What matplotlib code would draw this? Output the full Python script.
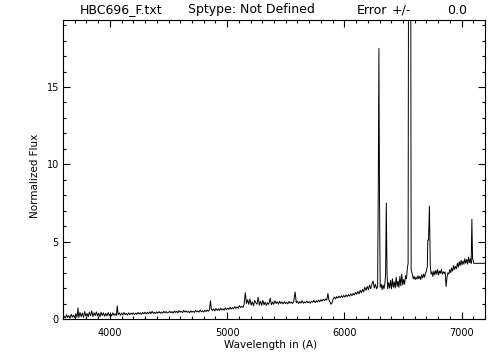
import matplotlib
matplotlib.use("Agg")
import matplotlib.pyplot as plt
from matplotlib.ticker import MultipleLocator

# spectrum (wavelength in A, normalized flux)
wave = [
    3600, 3610, 3620, 3630, 3640, 3650, 3660, 3670, 3680, 3690,
    3700, 3710, 3720, 3728, 3735, 3745, 3755, 3765, 3775, 3785,
    3795, 3805, 3815, 3825, 3835, 3845, 3855, 3865, 3875, 3885,
    3895, 3905, 3915, 3925, 3935, 3945, 3955, 3965, 3975, 3985,
    3995, 4005, 4015, 4025, 4035, 4045, 4055, 4063, 4070, 4080,
    4090, 4100, 4110, 4120, 4130, 4140, 4150, 4160, 4170, 4180,
    4190, 4200, 4210, 4220, 4230, 4240, 4250, 4260, 4270, 4280,
    4290, 4300, 4310, 4320, 4330, 4340, 4350, 4360, 4370, 4380,
    4390, 4400, 4410, 4420, 4430, 4440, 4450, 4460, 4470, 4480,
    4490, 4500, 4510, 4520, 4530, 4540, 4550, 4560, 4570, 4580,
    4590, 4600, 4610, 4620, 4630, 4640, 4650, 4660, 4670, 4680,
    4690, 4700, 4710, 4720, 4730, 4740, 4750, 4760, 4770, 4780,
    4790, 4800, 4810, 4820, 4830, 4840, 4850, 4858, 4866, 4875,
    4885, 4895, 4905, 4915, 4925, 4935, 4945, 4955, 4965, 4975,
    4985, 4995, 5005, 5015, 5025, 5035, 5045, 5055, 5065, 5075,
    5085, 5095, 5105, 5115, 5125, 5135, 5145, 5155, 5165, 5175,
    5185, 5195, 5205, 5215, 5225, 5235, 5245, 5255, 5265, 5275,
    5285, 5295, 5305, 5315, 5325, 5335, 5345, 5355, 5368, 5378,
    5388, 5398, 5408, 5418, 5428, 5438, 5448, 5458, 5468, 5478,
    5488, 5498, 5508, 5518, 5528, 5538, 5548, 5558, 5568, 5580,
    5590, 5600, 5610, 5620, 5630, 5640, 5650, 5660, 5670, 5680,
    5690, 5700, 5710, 5720, 5730, 5740, 5750, 5760, 5770, 5780,
    5790, 5800, 5810, 5820, 5830, 5840, 5850, 5860, 5868, 5878,
    5886, 5895, 5905, 5915, 5925, 5935, 5945, 5955, 5965, 5975,
    5985, 5995, 6005, 6015, 6025, 6035, 6045, 6055, 6065, 6075,
    6085, 6095, 6105, 6115, 6125, 6135, 6145, 6155, 6165, 6175,
    6185, 6195, 6205, 6215, 6225, 6235, 6245, 6255, 6265, 6275,
    6284, 6290, 6295, 6300, 6306, 6314, 6322, 6330, 6338, 6346,
    6352, 6358, 6364, 6370, 6378, 6386, 6394, 6402, 6410, 6418,
    6426, 6434, 6442, 6450, 6458, 6466, 6474, 6482, 6490, 6498,
    6506, 6514, 6522, 6530, 6538, 6544, 6548, 6566, 6570, 6580,
    6588, 6596, 6604, 6612, 6620, 6628, 6636, 6644, 6652, 6660,
    6668, 6676, 6684, 6692, 6700, 6708, 6712, 6718, 6726, 6733,
    6740, 6748, 6756, 6764, 6772, 6780, 6788, 6796, 6804, 6812,
    6820, 6828, 6836, 6844, 6852, 6860, 6868, 6876, 6884, 6892,
    6900, 6908, 6916, 6924, 6932, 6940, 6948, 6956, 6964, 6972,
    6980, 6988, 6996, 7004, 7012, 7020, 7028, 7036, 7044, 7052,
    7060, 7068, 7076, 7082, 7088, 7094, 7104, 7200,
]
flux = [
    0.05, 0.18, 0.06, 0.28, 0.10, 0.22, 0.05, 0.30, 0.12, 0.25,
    0.08, 0.35, 0.12, 0.72, 0.10, 0.42, 0.15, 0.38, 0.10, 0.48,
    0.18, 0.36, 0.14, 0.45, 0.20, 0.52, 0.16, 0.40, 0.22, 0.46,
    0.18, 0.38, 0.15, 0.44, 0.22, 0.40, 0.18, 0.36, 0.20, 0.42,
    0.22, 0.35, 0.20, 0.40, 0.24, 0.34, 0.22, 0.85, 0.28, 0.40,
    0.24, 0.38, 0.26, 0.42, 0.28, 0.36, 0.25, 0.40, 0.28, 0.38,
    0.30, 0.40, 0.28, 0.38, 0.30, 0.43, 0.32, 0.40, 0.30, 0.42,
    0.34, 0.44, 0.33, 0.42, 0.35, 0.46, 0.34, 0.50, 0.36, 0.44,
    0.35, 0.46, 0.38, 0.48, 0.37, 0.45, 0.38, 0.50, 0.40, 0.48,
    0.39, 0.42, 0.50, 0.40, 0.48, 0.38, 0.52, 0.42, 0.50, 0.40,
    0.55, 0.44, 0.50, 0.41, 0.56, 0.45, 0.52, 0.43, 0.50, 0.40,
    0.53, 0.44, 0.50, 0.42, 0.56, 0.46, 0.52, 0.44, 0.58, 0.47,
    0.53, 0.45, 0.56, 0.48, 0.58, 0.50, 0.60, 1.18, 0.62, 0.55,
    0.65, 0.52, 0.68, 0.56, 0.66, 0.55, 0.70, 0.58, 0.66, 0.57,
    0.72, 0.60, 0.70, 0.62, 0.76, 0.64, 0.74, 0.66, 0.80, 0.68,
    0.78, 0.70, 0.86, 0.74, 0.82, 0.75, 0.95, 1.70, 1.00, 1.25,
    0.95, 1.30, 0.90, 1.10, 0.85, 1.20, 1.05, 0.95, 1.40, 0.90,
    1.15, 0.88, 1.20, 0.92, 1.10, 0.88, 1.05, 0.95, 1.35, 0.92,
    1.10, 0.95, 1.18, 1.00, 1.12, 0.96, 1.15, 1.00, 1.10, 0.98,
    1.12, 1.00, 1.08, 0.98, 1.14, 1.02, 1.10, 1.00, 1.12, 1.75,
    1.05, 1.15, 1.00, 1.12, 1.03, 1.18, 1.02, 1.10, 1.04, 1.16,
    1.05, 1.12, 1.02, 1.15, 1.08, 1.20, 1.06, 1.18, 1.10, 1.22,
    1.12, 1.25, 1.15, 1.28, 1.18, 1.30, 1.22, 1.65, 1.25, 1.10,
    0.95, 1.05, 1.30, 1.42, 1.30, 1.45, 1.35, 1.48, 1.38, 1.50,
    1.40, 1.52, 1.42, 1.55, 1.45, 1.58, 1.48, 1.62, 1.52, 1.65,
    1.55, 1.72, 1.60, 1.78, 1.62, 1.85, 1.70, 1.92, 1.75, 2.05,
    1.85, 2.10, 1.90, 2.20, 1.95, 2.25, 2.45, 2.00, 2.25, 1.95,
    2.10, 9.00, 17.5, 8.00, 2.05, 2.25, 1.90, 2.20, 1.95, 2.30,
    2.90, 7.50, 3.00, 1.95, 2.35, 2.00, 2.50, 1.95, 2.60, 2.05,
    2.40, 2.00, 2.70, 2.10, 2.45, 2.05, 2.75, 2.15, 2.90, 2.20,
    2.55, 2.25, 2.80, 2.60, 3.30, 3.60, 25.0, 25.0, 3.20, 2.90,
    2.60, 2.75, 2.55, 2.70, 2.58, 2.80, 2.60, 2.75, 2.55, 2.85,
    2.65, 2.90, 2.70, 2.95, 3.10, 3.40, 5.10, 5.10, 7.30, 3.50,
    2.90, 3.05, 2.75, 3.10, 2.85, 3.15, 2.90, 3.20, 2.85, 3.10,
    2.95, 3.20, 2.90, 3.05, 2.95, 3.05, 2.10, 2.70, 3.00, 2.90,
    3.20, 3.00, 3.30, 3.10, 3.45, 3.20, 3.40, 3.25, 3.60, 3.35,
    3.70, 3.45, 3.80, 3.50, 3.75, 3.55, 3.90, 3.60, 3.85, 3.55,
    4.00, 3.65, 3.90, 3.60, 6.45, 3.90, 3.60, 3.60,
]

title_parts = ["HBC696_F.txt", "Sptype: Not Defined", "Error", "+/-", "0.0"]
title_x_px = [80, 188, 357, 392, 447]

plt.rcParams['font.family'] = 'DejaVu Sans'

fig = plt.figure(figsize=(5.04, 3.6), dpi=100)
ax = fig.add_axes([63 / 504, 41 / 360, 422 / 504, 299 / 360])

ax.plot(wave, flux, color='black', lw=0.7)

ax.set_xlim(3600, 7200)
ax.set_ylim(0, 19.33)

ax.xaxis.set_major_locator(MultipleLocator(1000))
ax.xaxis.set_minor_locator(MultipleLocator(100))
ax.yaxis.set_major_locator(MultipleLocator(5))
ax.yaxis.set_minor_locator(MultipleLocator(1))
ax.tick_params(which='both', direction='in', top=True, right=True,
               width=0.8, labelsize=7)
ax.tick_params(which='major', length=5)
ax.tick_params(which='minor', length=2.5)
ax.tick_params(axis='x', pad=6.5)
ax.tick_params(axis='y', pad=3)
for s in ax.spines.values():
    s.set_linewidth(0.8)

ax.set_xlabel('Wavelength in (A)', fontsize=7.5)
ax.set_ylabel('Normalized Flux', fontsize=7.5)
ax.xaxis.set_label_coords(0.492, -0.07)
ax.yaxis.set_label_coords(-0.055, 0.48)

for txt, xp in zip(title_parts, title_x_px):
    fig.text(xp / 504, 1 - 10 / 360, txt, fontsize=9, ha='left', va='center')

plt.savefig('out.png', dpi=100)
